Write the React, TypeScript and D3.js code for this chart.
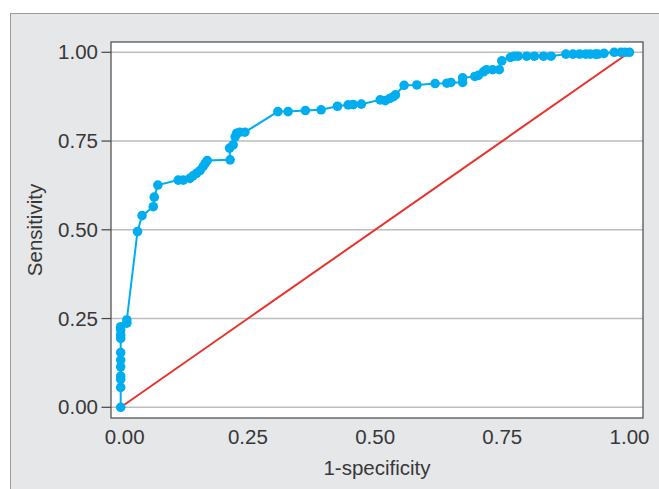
import React from "react";
import * as d3 from "d3";

const fpr: number[] = [
  0, 0, 0, 0, 0, 0, 0, 0, 0, 0, 0, 0.012, 0.012, 0.033, 0.042, 0.064, 0.066, 0.073,
  0.113, 0.123, 0.136, 0.142, 0.149, 0.156, 0.162, 0.166, 0.17, 0.215, 0.214, 0.221,
  0.225, 0.228, 0.234, 0.244, 0.309, 0.329, 0.363, 0.394, 0.426, 0.447, 0.457, 0.473,
  0.51, 0.52, 0.529, 0.536, 0.54, 0.557, 0.582, 0.618, 0.641, 0.649, 0.672, 0.672,
  0.696, 0.703, 0.713, 0.719, 0.731, 0.744, 0.749, 0.766, 0.774, 0.781, 0.798, 0.813,
  0.831, 0.846, 0.875, 0.889, 0.902, 0.914, 0.923, 0.933, 0.938, 0.95, 0.97, 0.983,
  0.991, 1.0,
];
const tpr: number[] = [
  0, 0.056, 0.079, 0.088, 0.114, 0.133, 0.154, 0.194, 0.204, 0.218, 0.227, 0.237, 0.246,
  0.495, 0.54, 0.565, 0.592, 0.626, 0.64, 0.64, 0.645, 0.652, 0.659, 0.667, 0.678, 0.687,
  0.695, 0.697, 0.73, 0.739, 0.762, 0.772, 0.775, 0.775, 0.833, 0.833, 0.836, 0.838,
  0.848, 0.852, 0.853, 0.854, 0.866, 0.864, 0.87, 0.875, 0.88, 0.907, 0.908, 0.912,
  0.913, 0.915, 0.915, 0.928, 0.932, 0.935, 0.945, 0.951, 0.951, 0.951, 0.976, 0.986,
  0.989, 0.989, 0.989, 0.989, 0.989, 0.989, 0.995, 0.995, 0.995, 0.995, 0.995, 0.995,
  0.995, 0.997, 1.0, 1.0, 1.0, 1.0,
];
const tickValues: number[] = [0, 0.25, 0.5, 0.75, 1.0];
const tickLabels: string[] = ["0.00", "0.25", "0.50", "0.75", "1.00"];
const diagonal: number[] = [0, 1];

export default function App() {
  const x = d3.scaleLinear().domain([0, 1]).range([120.7, 629.5]);
  const y = d3.scaleLinear().domain([0, 1]).range([407.3, 52.3]);
  const pts = fpr.map((v, i) => [v, tpr[i]] as [number, number]);
  const line = d3
    .line<[number, number]>()
    .x((d) => x(d[0]))
    .y((d) => y(d[1]));
  const diag = diagonal.map((v) => [v, v] as [number, number]);
  const boxL = 111,
    boxR = 643,
    boxT = 42,
    boxB = 418;
  const font = "'Liberation Sans', Arial, sans-serif";
  const textColor = "#383838";
  const fs = 20.5;
  return (
    <svg
      width={659}
      height={489}
      style={{ position: "absolute", left: 0, top: 0, background: "#fff" }}
    >
      <rect x={10.5} y={13.5} width={700} height={500} fill="#e6e7e9" stroke="#9a9a9a" strokeWidth={1} />
      <rect x={boxL} y={boxT} width={boxR - boxL} height={boxB - boxT} fill="#fff" />
      {tickValues.map((t) => (
        <line key={"g" + t} x1={boxL} x2={boxR} y1={y(t)} y2={y(t)} stroke="#bdbdbd" strokeWidth={1.5} />
      ))}
      <rect x={boxL} y={boxT} width={boxR - boxL} height={boxB - boxT} fill="none" stroke="#555" strokeWidth={1.3} />
      {tickValues.map((t, i) => (
        <g key={"yt" + t}>
          <line x1={101.5} x2={boxL} y1={y(t)} y2={y(t)} stroke="#444" strokeWidth={1.2} />
          <text x={98} y={y(t)} dy="0.35em" textAnchor="end" fontFamily={font} fontSize={fs} fill={textColor}>
            {tickLabels[i]}
          </text>
        </g>
      ))}
      {tickValues.map((t, i) => (
        <text key={"xt" + t} x={x(t) + (i === 0 ? 4 : 0)} y={443.5} textAnchor="middle" fontFamily={font} fontSize={fs} fill={textColor}>
          {tickLabels[i]}
        </text>
      ))}
      <text x={377} y={475} textAnchor="middle" fontFamily={font} fontSize={fs} fill={textColor}>
        1-specificity
      </text>
      <text
        transform={`translate(42,230) rotate(-90)`}
        textAnchor="middle"
        fontFamily={font}
        fontSize={fs}
        fill={textColor}
      >
        Sensitivity
      </text>
      <path d={line(diag) || ""} fill="none" stroke="#e8322b" strokeWidth={2} />
      <path d={line(pts) || ""} fill="none" stroke="#00aeef" strokeWidth={2} />
      {pts.map((p, i) => (
        <circle key={i} cx={x(p[0])} cy={y(p[1])} r={4.8} fill="#00aeef" />
      ))}
    </svg>
  );
}
